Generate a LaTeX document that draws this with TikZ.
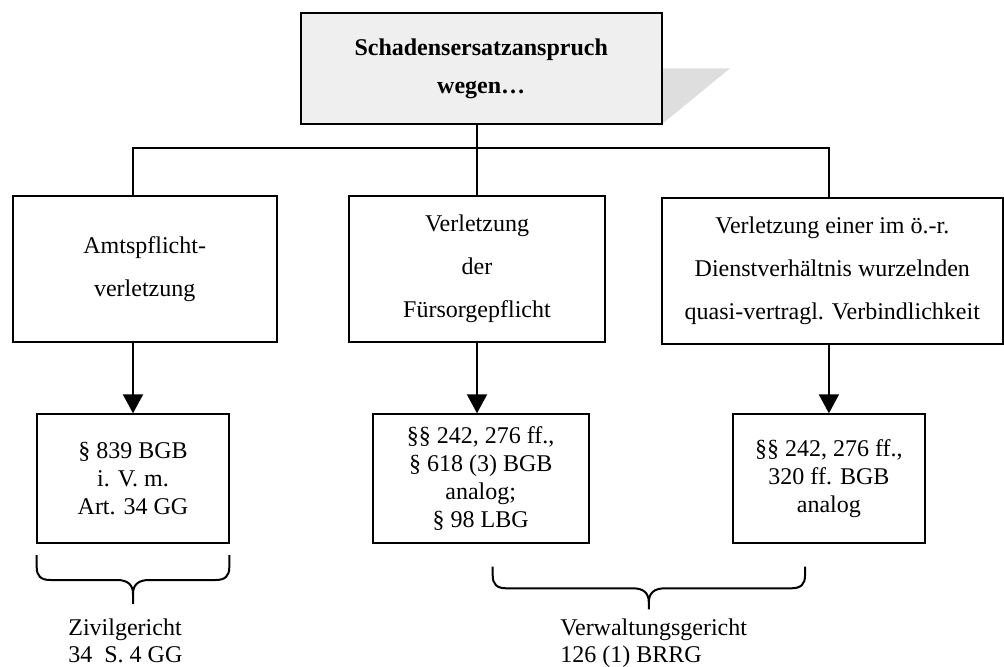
\documentclass[tikz,border=0pt]{standalone}
\usepackage{fontspec}
\setmainfont{Liberation Serif}
\usepackage{tikz}
\usetikzlibrary{positioning}
\usetikzlibrary{arrows.meta}
\definecolor{boxfill}{HTML}{EFEFEF}
\definecolor{shadowgray}{HTML}{DEDEDE}
% geschweifte Klammer: x links, x rechts, y oben, y waagrecht, y Spitze
\newcommand{\wortklammer}[5]{%
	\draw [line width=1pt] (#1,#3) -- (#1,#4-13) .. controls (#1,#4-4) and (#1+4,#4) .. (#1+14,#4)
		-- ({(#1+#2)/2-16},#4) .. controls ({(#1+#2)/2-5},#4) and ({(#1+#2)/2},#4+5) .. ({(#1+#2)/2},#4+14)
		-- ({(#1+#2)/2},#5);
	\draw [line width=1pt] (#2,#3) -- (#2,#4-13) .. controls (#2,#4-4) and (#2-4,#4) .. (#2-14,#4)
		-- ({(#1+#2)/2+16},#4) .. controls ({(#1+#2)/2+5},#4) and ({(#1+#2)/2},#4+5) .. ({(#1+#2)/2},#4+14);}

\begin{document}
\begin{tikzpicture}[x=0.5pt,y=-0.5pt,
	kasten/.style={draw,line width=1pt,align=center,inner sep=2pt},
	mitte/.style={kasten,minimum height=72.85pt,font=\fontsize{12}{21.5}\selectfont},
	norm/.style={kasten,minimum height=64.5pt,font=\fontsize{12}{14}\selectfont},
	pfeil/.style={line width=1pt,-{Triangle[width=10pt,length=9.5pt]}},
	gericht/.style={anchor=north west,align=left,inner sep=0pt,font=\fontsize{12}{13.5}\selectfont}]
	\useasboundingbox (0,0) rectangle (1004,666);
	% Kopf mit Schatten
	\fill [shadowgray] (661.7,68.3) -- (730,68.3) -- (663,123.3) -- cycle;
	\node [kasten,fill=boxfill,minimum width=180.5pt,minimum height=55.35pt,
		font=\bfseries\fontsize{12}{19}\selectfont] (kopf) at (481.2,68.7)
		{Schadensersatzanspruch\\wegen…};
	% mittlere Reihe
	\node [mitte,minimum width=132pt] (amt) at (144.7,268.8) {Amtspflicht-\\verletzung};
	\node [mitte,minimum width=128pt] (fuer) at (477,268.8) {Verletzung\\der\\Fürsorgepflicht};
	\node [mitte,minimum width=170.7pt] (dienst) at (832.3,271.2)
		{Verletzung einer im ö.-r.\\Dienstverhältnis wurzelnden\\quasi-vertragl. Verbindlichkeit};
	% Normen
	\node [norm,minimum width=96.3pt] (zbgb) at (133,478.8) {§ 839 BGB\\i. V. m.\\Art. 34 GG};
	\node [norm,minimum width=108pt] (fbgb) at (480.7,478.8)
		{§§ 242, 276 ff.,\\§ 618 (3) BGB\\analog;\\§ 98 LBG};
	\node [norm,minimum width=96.15pt] (dbgb) at (828.9,478.8) {§§ 242, 276 ff.,\\320 ff. BGB\\analog};
	% Verbindungen
	\coordinate (split) at (477,148.3);
	\draw [line width=1pt] (kopf.south -| fuer.north) -- (fuer.north);
	\draw [line width=1pt] (zbgb.north |- amt.north) |- (split) -| (dbgb.north |- dienst.north);
	\draw [pfeil] (amt.south -| zbgb.north) -- (zbgb.north);
	\draw [pfeil] (fuer.south) -- (fuer.south |- fbgb.north);
	\draw [pfeil] (dienst.south -| dbgb.north) -- (dbgb.north);
	% Klammern und Gerichte
	\wortklammer{36.7}{229.3}{555}{580}{604}
	\wortklammer{492.7}{805}{566.7}{588.3}{609.3}
	\node [gericht] (zivil) at (68,618) {Zivilgericht\\34\ \ S.~4 GG};
	\node [gericht] (verw) at (560,618) {Verwaltungsgericht\\126 (1) BRRG};
\end{tikzpicture}
\end{document}
